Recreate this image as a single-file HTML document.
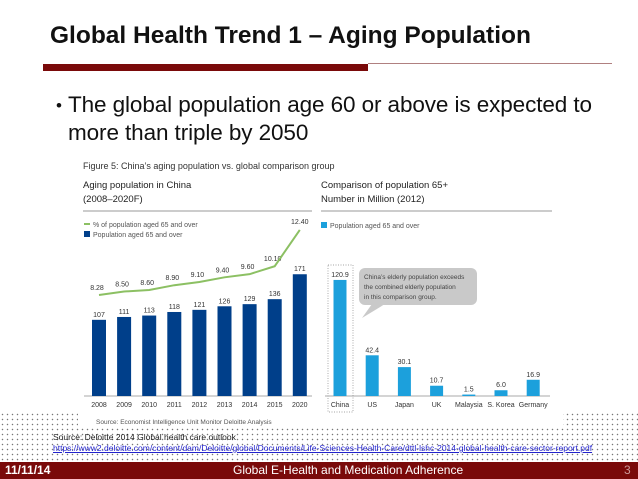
<!DOCTYPE html>
<html><head><meta charset="utf-8"><style>
body{margin:0;width:638px;height:479px;overflow:hidden;background:#fff;position:relative;font-family:"Liberation Sans",sans-serif}
.abs{position:absolute;white-space:nowrap}
.dots{position:absolute;background-image:radial-gradient(#777 0.6px,transparent 0.9px);background-size:5px 5px}
</style></head><body>
<div class="dots" style="left:0;top:412px;width:638px;height:50px"></div>
<div class="abs" style="left:78px;top:150px;width:485px;height:278px;background:#fff"></div>
<div class="abs" style="left:50px;top:22px;font-size:24.5px;font-weight:bold;color:#111">Global Health Trend 1 – Aging Population</div>
<div class="abs" style="left:43px;top:64px;width:325px;height:7px;background:#7a0a0a"></div>
<div class="abs" style="left:368px;top:63px;width:244px;height:1px;background:#b08080"></div>
<div class="abs" style="left:56px;top:92px;font-size:17px;line-height:28px;color:#111">•</div>
<div class="abs" style="left:68px;top:91px;font-size:22.5px;line-height:28px;color:#111;letter-spacing:-0.1px">The global population age 60 or above is expected to<br>more than triple by 2050</div>
<svg class="abs" style="left:0;top:0" width="638" height="479" font-family="Liberation Sans, sans-serif">
<text x="83" y="169" font-size="9" fill="#333">Figure 5: China’s aging population vs. global comparison group</text>
<text x="83" y="188" font-size="9.5" fill="#222">Aging population in China</text>
<text x="83" y="202" font-size="9.5" fill="#222">(2008–2020F)</text>
<rect x="83" y="210" width="229" height="2" fill="#ccc"/>
<line x1="84" y1="224" x2="90" y2="224" stroke="#8cc063" stroke-width="2"/>
<text x="93" y="227" font-size="7" fill="#555">% of population aged 65 and over</text>
<rect x="84" y="231" width="6" height="6" fill="#003f8a"/>
<text x="93" y="237" font-size="7" fill="#555">Population aged 65 and over</text>
<text x="321" y="188" font-size="9.5" fill="#222">Comparison of population 65+</text>
<text x="321" y="202" font-size="9.5" fill="#222">Number in Million (2012)</text>
<rect x="321" y="210" width="231" height="2" fill="#ccc"/>
<rect x="321" y="222" width="6" height="6" fill="#1ca0dc"/>
<text x="330" y="228" font-size="7" fill="#555">Population aged 65 and over</text>
<g id="left"></g><g id="right"></g>
<rect x="328" y="265" width="25" height="147" fill="none" stroke="#888" stroke-dasharray="1,1.5" stroke-width="0.7"/>
<rect x="359" y="268" width="118" height="37" rx="6" fill="#c9c9c9"/>
<polygon points="372,304 385,304 362,318" fill="#c9c9c9"/>
<text x="364" y="279" font-size="6.5" fill="#444">China’s elderly population exceeds</text>
<text x="364" y="289" font-size="6.5" fill="#444">the combined elderly population</text>
<text x="364" y="299" font-size="6.5" fill="#444">in this comparison group.</text>
<text x="96" y="424" font-size="6.5" fill="#555">Source: Economist Intelligence Unit Monitor Deloitte Analysis</text>
</svg>
<div class="abs" style="left:53px;top:432px;font-size:8.5px;color:#222">Source: Deloitte 2014 Global health care outlook</div>
<div class="abs" style="left:53px;top:443px;font-size:8.5px;color:#2222cc;text-decoration:underline">https://www2.deloitte.com/content/dam/Deloitte/global/Documents/Life-Sciences-Health-Care/dttl-lshc-2014-global-health-care-sector-report.pdf</div>
<div class="abs" style="left:0;top:462px;width:638px;height:17px;background:#7a0a0a"></div>
<div class="abs" style="left:5px;top:463px;font-size:12px;font-weight:bold;color:#fff">11/11/14</div>
<div class="abs" style="left:233px;top:463px;font-size:12px;color:#fff">Global E-Health and Medication Adherence</div>
<div class="abs" style="left:624px;top:463px;font-size:12px;color:#c99">3</div>
<script>
const years=["2008","2009","2010","2011","2012","2013","2014","2015","2020"];
const popValues=[107,111,113,118,121,126,129,136,171];
const pctValues=[8.28,8.50,8.60,8.90,9.10,9.40,9.60,10.10,12.40];
const pctLabels=["8.28","8.50","8.60","8.90","9.10","9.40","9.60","10.10","12.40"];
const countries=["China","US","Japan","UK","Malaysia","S. Korea","Germany"];
const countryValues=[120.9,42.4,30.1,10.7,1.5,6.0,16.9];
const countryLabels=["120.9","42.4","30.1","10.7","1.5","6.0","16.9"];
const NS="http://www.w3.org/2000/svg";
function mk(p,t,a,txt){const e=document.createElementNS(NS,t);for(const k in a)e.setAttribute(k,a[k]);if(txt!==undefined)e.textContent=txt;p.appendChild(e);return e;}
const base=396;
const lx=i=>99+i*25.1, ly=v=>base-v*0.712, py=v=>295-(v-8.28)*15.8;
const L=document.getElementById('left');
mk(L,'line',{x1:84,y1:base,x2:312,y2:base,stroke:'#aaa','stroke-width':1});
years.forEach((y,i)=>{
 const r=mk(L,'rect',{x:lx(i)-7,y:ly(popValues[i]),width:14,height:base-ly(popValues[i]),fill:'#003f8a'});
 
 
 mk(L,'text',{x:lx(i),y:ly(popValues[i])-3,'font-size':7,'text-anchor':'middle',fill:'#333'},String(popValues[i]));
 mk(L,'text',{x:lx(i),y:base+11,'font-size':7,'text-anchor':'middle',fill:'#333'},y);
 mk(L,'text',{x:lx(i)-(i==8?0:2),y:py(pctValues[i])-(i==8?6:5),'font-size':7,'text-anchor':'middle',fill:'#333'},pctLabels[i]);
});
const ln=mk(L,'polyline',{points:pctValues.map((v,i)=>lx(i)+','+py(v)).join(' '),fill:'none',stroke:'#8cc063','stroke-width':2});


const R=document.getElementById('right');
const rx=i=>340+i*32.2, ry=v=>base-v*0.96;
mk(R,'line',{x1:325,y1:base,x2:550,y2:base,stroke:'#aaa','stroke-width':1});
countries.forEach((c,i)=>{
 const r=mk(R,'rect',{x:rx(i)-6.5,y:ry(countryValues[i]),width:13,height:base-ry(countryValues[i]),fill:'#1ca0dc'});
 
 
 mk(R,'text',{x:rx(i),y:ry(countryValues[i])-3,'font-size':7,'text-anchor':'middle',fill:'#333'},countryLabels[i]);
 mk(R,'text',{x:rx(i),y:base+11,'font-size':7,'text-anchor':'middle',fill:'#333'},c);
});
</script>
</body></html>
